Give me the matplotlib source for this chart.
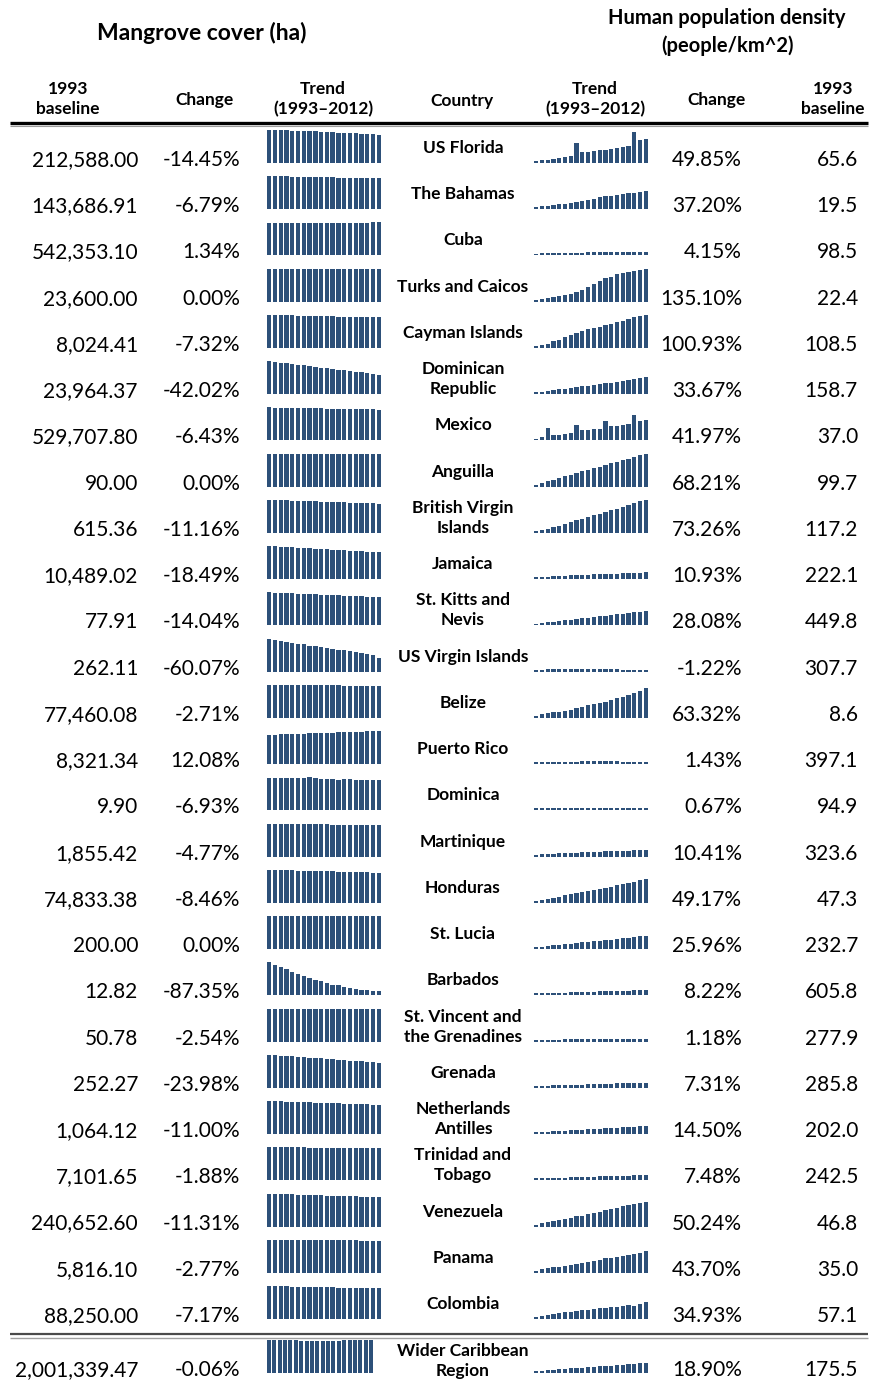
import matplotlib
matplotlib.use("Agg")
import matplotlib.pyplot as plt

plt.rcParams['font.family'] = ['Lato', 'DejaVu Sans']

# table values
countries = ["US Florida", "The Bahamas", "Cuba", "Turks and Caicos", "Cayman Islands",
             "Dominican\nRepublic", "Mexico", "Anguilla", "British Virgin\nIslands", "Jamaica",
             "St. Kitts and\nNevis", "US Virgin Islands", "Belize", "Puerto Rico", "Dominica",
             "Martinique", "Honduras", "St. Lucia", "Barbados", "St. Vincent and\nthe Grenadines",
             "Grenada", "Netherlands\nAntilles", "Trinidad and\nTobago", "Venezuela", "Panama",
             "Colombia", "Wider Caribbean\nRegion"]
mangrove_base = [212588.00, 143686.91, 542353.10, 23600.00, 8024.41, 23964.37, 529707.80, 90.00,
                 615.36, 10489.02, 77.91, 262.11, 77460.08, 8321.34, 9.90, 1855.42, 74833.38,
                 200.00, 12.82, 50.78, 252.27, 1064.12, 7101.65, 240652.60, 5816.10, 88250.00,
                 2001339.47]
mangrove_change = [-14.45, -6.79, 1.34, 0.00, -7.32, -42.02, -6.43, 0.00, -11.16, -18.49, -14.04,
                   -60.07, -2.71, 12.08, -6.93, -4.77, -8.46, 0.00, -87.35, -2.54, -23.98, -11.00,
                   -1.88, -11.31, -2.77, -7.17, -0.06]
pop_change = [49.85, 37.20, 4.15, 135.10, 100.93, 33.67, 41.97, 68.21, 73.26, 10.93, 28.08, -1.22,
              63.32, 1.43, 0.67, 10.41, 49.17, 25.96, 8.22, 1.18, 7.31, 14.50, 7.48, 50.24, 43.70,
              34.93, 18.90]
pop_base = [65.6, 19.5, 98.5, 22.4, 108.5, 158.7, 37.0, 99.7, 117.2, 222.1, 449.8, 307.7, 8.6,
            397.1, 94.9, 323.6, 47.3, 232.7, 605.8, 277.9, 285.8, 202.0, 242.5, 46.8, 35.0, 57.1,
            175.5]

# mangrove cover 1993-2012, % of 1993
mg_florida = [100, 99.6, 99.1, 98.5, 98.0, 97.4, 96.9, 96.2, 95.5, 94.8, 94.1, 93.2, 92.4, 91.6, 90.7, 89.8, 88.8, 87.9, 86.7, 85.55]
mg_bahamas = [100, 99.8, 99.5, 99.3, 98.9, 98.6, 98.2, 97.9, 97.6, 97.2, 96.8, 96.5, 96.1, 95.7, 95.4, 94.9, 94.5, 94.1, 93.6, 93.21]
mg_cuba = [100, 100.1, 100.1, 100.2, 100.3, 100.3, 100.4, 100.5, 100.6, 100.6, 100.7, 100.8, 100.8, 100.9, 101.0, 101.1, 101.1, 101.2, 101.3, 101.34]
mg_turks = [100, 100, 100, 100, 100, 100, 100, 100, 100, 100, 100, 100, 100, 100, 100, 100, 100, 100, 100, 100]
mg_cayman = [100, 99.6, 99.3, 98.8, 98.4, 98.1, 97.6, 97.2, 96.9, 96.4, 96.0, 95.6, 95.3, 94.8, 94.4, 94.0, 93.7, 93.2, 92.9, 92.68]
mg_domrep = [100, 98.0, 95.5, 93.6, 91.2, 89.3, 87.1, 84.8, 82.9, 80.5, 78.6, 76.2, 74.3, 72.0, 70.1, 67.7, 65.8, 63.4, 61.0, 57.98]
mg_mexico = [100, 99.7, 99.4, 99.0, 98.7, 98.3, 98.0, 97.7, 97.3, 96.9, 96.6, 96.2, 95.9, 95.5, 95.1, 94.8, 94.5, 94.1, 93.8, 93.57]
mg_anguilla = [100, 100, 100, 100, 100, 100, 100, 100, 100, 100, 100, 100, 100, 100, 100, 100, 100, 100, 100, 100]
mg_bvi = [100, 99.5, 99.0, 98.4, 97.9, 97.2, 96.6, 96.1, 95.4, 94.8, 94.3, 93.6, 93.0, 92.5, 91.8, 91.2, 90.7, 90.0, 89.4, 88.84]
mg_jamaica = [100, 99.1, 98.2, 97.3, 96.3, 95.4, 94.5, 93.5, 92.6, 91.6, 90.7, 89.7, 88.8, 87.7, 86.8, 85.7, 84.7, 83.6, 82.6, 81.51]
mg_kitts = [100, 99.3, 98.6, 97.8, 97.1, 96.3, 95.6, 94.8, 94.1, 93.3, 92.5, 91.7, 90.9, 90.1, 89.3, 88.5, 87.8, 87.1, 86.5, 85.96]
mg_usvi = [100, 96.9, 93.9, 90.8, 87.8, 84.7, 83.7, 78.6, 76.5, 74.5, 71.4, 69.4, 64.3, 65.3, 61.2, 59.2, 56.1, 53.1, 49.0, 39.93]
mg_belize = [100, 99.9, 99.7, 99.6, 99.4, 99.3, 99.1, 99.0, 98.8, 98.7, 98.5, 98.4, 98.2, 98.1, 97.9, 97.8, 97.7, 97.5, 97.4, 97.29]
mg_puerto = [100, 100.4, 100.9, 101.5, 102.1, 102.8, 103.4, 105.3, 104.8, 105.5, 106.2, 106.9, 107.5, 108.2, 108.8, 109.5, 110.1, 110.8, 111.4, 112.08]
mg_dominica = [100, 100, 100, 100, 100, 100, 100, 102.5, 99.0, 98.7, 98.4, 98.1, 94.5, 96.8, 96.3, 95.7, 95.0, 94.4, 93.7, 93.07]
mg_martinique = [100, 99.8, 99.5, 99.3, 99.0, 98.8, 98.5, 98.2, 98.0, 97.7, 97.5, 97.2, 96.9, 96.7, 96.4, 96.2, 95.9, 95.7, 95.4, 95.23]
mg_honduras = [100, 99.6, 99.1, 98.7, 98.2, 97.8, 97.3, 96.9, 96.4, 96.0, 95.5, 95.1, 94.6, 94.2, 93.7, 93.3, 92.8, 92.4, 91.9, 91.54]
mg_lucia = [100, 100, 100, 100, 100, 100, 100, 100, 100, 100, 100, 100, 100, 100, 100, 100, 100, 100, 100, 100]
mg_barbados = [100, 93, 86, 79, 72, 65, 59, 54, 47, 42, 37, 32, 30, 25, 22, 19, 17, 15, 13.5, 12.65]
mg_vincent = [100, 99.9, 99.7, 99.6, 99.5, 99.3, 99.2, 99.0, 98.9, 98.7, 98.6, 98.4, 98.3, 98.1, 98.0, 97.9, 97.8, 97.7, 97.6, 97.46]
mg_grenada = [100, 98.8, 97.6, 96.3, 95.1, 93.9, 92.6, 91.4, 90.1, 88.9, 87.6, 86.4, 85.1, 83.9, 82.6, 81.3, 80.0, 78.7, 77.4, 76.02]
mg_antilles = [100, 99.4, 98.8, 98.2, 97.6, 97.0, 96.4, 95.8, 95.2, 94.6, 94.0, 93.4, 92.8, 92.2, 91.6, 91.0, 90.4, 89.8, 89.4, 89.0]
mg_trinidad = [100, 99.9, 99.8, 99.7, 99.6, 99.5, 99.4, 99.3, 99.2, 99.1, 99.0, 98.9, 98.8, 98.7, 98.6, 98.5, 98.4, 98.3, 98.2, 98.12]
mg_venezuela = [100, 99.4, 98.8, 98.2, 97.6, 97.0, 96.4, 95.8, 95.2, 94.6, 94.0, 93.4, 92.8, 92.2, 91.6, 91.0, 90.4, 89.8, 89.2, 88.69]
mg_panama = [100, 99.9, 99.7, 99.6, 99.4, 99.3, 99.1, 99.0, 98.8, 98.7, 98.5, 98.4, 98.2, 98.1, 97.9, 97.8, 97.6, 97.5, 97.4, 97.23]
mg_colombia = [100, 99.6, 99.2, 98.8, 98.4, 98.1, 97.7, 97.3, 96.9, 96.5, 96.1, 95.7, 95.4, 95.0, 94.6, 94.2, 93.8, 93.5, 93.2, 92.83]
mg_wider = [100, 99.7, 99.4, 99.1, 98.8, 98.5, 98.3, 98.1, 97.9, 97.8, 97.7, 97.8, 97.9, 98.2, 98.5, 98.8, 99.1, 99.4, 99.7, 99.94]

# population density 1993-2012, % change from 1993
pd_florida = [0, 1.5, 3.5, 5, 7, 8.5, 12, 41, 20, 21, 22.5, 24, 25.5, 27, 29, 31, 34, 66, 47, 49.85]
pd_bahamas = [0, 2.5, 4, 5.5, 7, 8.5, 10.5, 12, 14, 15.5, 19.5, 23, 24.5, 26.5, 28, 29.5, 31.5, 33, 35, 37.2]
pd_cuba = [0, 0.4, 0.7, 1.1, 1.4, 1.7, 2.0, 2.2, 2.4, 2.7, 2.9, 3.1, 3.3, 3.5, 3.6, 3.8, 3.9, 4.0, 4.1, 4.15]
pd_turks = [0, 5.5, 9.6, 12.4, 15.2, 20.7, 24.8, 33.1, 44.1, 55.1, 68.9, 82.7, 93.7, 100.6, 110.3, 115.8, 121.3, 125.4, 131.0, 135.1]
pd_cayman = [0, 4, 8, 15, 21, 29, 35, 42, 48, 55, 60, 63, 68, 72, 78, 82, 87, 93, 98, 100.93]
pd_domrep = [0, 1.5, 3.2, 4.8, 6.5, 8.2, 9.9, 11.6, 13.3, 15, 16.7, 18.4, 20.1, 21.8, 23.6, 25.4, 27.2, 29.2, 31.3, 33.67]
pd_mexico = [0, 3.5, 23, 7, 8.5, 10, 12.5, 31.5, 19, 19, 21, 22.5, 40.5, 28, 28.5, 30, 33, 54, 40, 41.97]
pd_anguilla = [0, 4.5, 8, 11, 15, 19.5, 23, 27, 30, 34, 37.5, 41, 44.5, 48, 51, 55, 58.5, 62, 66, 68.21]
pd_bvi = [0, 3, 6, 9.5, 13, 17, 21, 25, 29, 33, 37, 41, 45, 49, 53, 57.5, 62, 66, 70, 73.26]
pd_jamaica = [0, 0.8, 1.5, 2.2, 2.9, 3.5, 4.1, 4.7, 5.3, 5.9, 6.5, 7, 7.5, 8, 8.5, 9, 9.5, 10, 10.5, 10.93]
pd_kitts = [0, 1.5, 3, 4.5, 6, 7.5, 9, 10.5, 12, 13.5, 15, 16.5, 18, 19.5, 21, 22.5, 24, 25.5, 27, 28.08]
pd_usvi = [0, 0.3, 0.8, 1.2, 1.5, 1.8, 2, 2.1, 2.1, 2, 1.9, 1.7, 1.4, 1.1, 0.7, 0.3, -0.1, -0.5, -0.9, -1.22]
pd_belize = [0, 3.5, 6, 8, 10, 12, 14.5, 17, 20.5, 24, 27, 29.5, 32.5, 36, 39.5, 43, 47, 51.5, 57, 63.32]
pd_puerto = [0, 0.3, 0.6, 0.9, 1.1, 1.3, 1.5, 1.6, 1.7, 1.8, 1.8, 1.8, 1.8, 1.7, 1.7, 1.6, 1.6, 1.5, 1.5, 1.43]
pd_dominica = [0, 0.2, 0.3, 0.4, 0.5, 0.5, 0.6, 0.6, 0.6, 0.6, 0.6, 0.6, 0.6, 0.6, 0.6, 0.6, 0.7, 0.7, 0.7, 0.67]
pd_martinique = [0, 0.8, 1.6, 2.3, 3, 3.7, 4.3, 4.9, 5.5, 6, 6.5, 7, 7.5, 8, 8.5, 8.9, 9.3, 9.7, 10.1, 10.41]
pd_honduras = [0, 2.5, 5, 7.5, 10, 12.5, 15, 17.5, 20, 22.5, 25, 27.5, 30, 32.5, 35, 37.5, 40.5, 43.5, 46.5, 49.17]
pd_lucia = [0, 1.4, 2.8, 4.2, 5.5, 6.8, 8.1, 9.4, 10.7, 12, 13.3, 14.6, 15.9, 17.2, 18.5, 19.8, 21.1, 22.4, 24.2, 25.96]
pd_barbados = [0, 0.4, 0.8, 1.2, 1.6, 2, 2.4, 2.8, 3.2, 3.6, 4, 4.4, 4.8, 5.2, 5.6, 6.1, 6.6, 7.1, 7.6, 8.22]
pd_vincent = [0, 0.1, 0.2, 0.3, 0.4, 0.5, 0.5, 0.6, 0.6, 0.7, 0.7, 0.8, 0.8, 0.9, 0.9, 1.0, 1.0, 1.1, 1.1, 1.18]
pd_grenada = [0, 0.4, 0.8, 1.2, 1.6, 2, 2.4, 2.8, 3.2, 3.6, 4, 4.4, 4.8, 5.2, 5.6, 6, 6.4, 6.8, 7.1, 7.31]
pd_antilles = [0, 0.5, 1.1, 1.7, 2.3, 3, 3.8, 4.6, 5.4, 6.2, 7, 7.8, 8.6, 9.4, 10.2, 11, 11.8, 12.7, 13.6, 14.5]
pd_trinidad = [0, 0.3, 0.7, 1.1, 1.5, 1.9, 2.3, 2.7, 3.1, 3.5, 3.9, 4.3, 4.7, 5.1, 5.5, 5.9, 6.3, 6.7, 7.1, 7.48]
pd_venezuela = [0, 2.6, 5.2, 7.8, 10.5, 13.2, 15.9, 19.5, 18.5, 23, 26, 29, 32, 35, 38, 41, 44, 46.5, 48.5, 50.24]
pd_panama = [0, 3.5, 5.6, 7.7, 9.8, 11.9, 14, 16.1, 18.2, 20.3, 22.4, 25.2, 28, 30.1, 31.5, 33.6, 35.7, 37.8, 40.6, 43.7]
pd_colombia = [0, 3.5, 5, 7, 8.5, 10.5, 12.5, 14, 15.5, 17, 18.5, 20, 21, 22, 23.5, 25, 27, 26, 30.5, 34.93]
pd_wider = [0, 1.1, 2.2, 3.2, 4.2, 5.2, 6.2, 7.1, 8, 8.9, 9.8, 10.7, 11.6, 12.5, 13.5, 14.5, 15.5, 16.6, 17.7, 18.9]

mangrove_trend = [mg_florida, mg_bahamas, mg_cuba, mg_turks, mg_cayman, mg_domrep, mg_mexico,
                  mg_anguilla, mg_bvi, mg_jamaica, mg_kitts, mg_usvi, mg_belize, mg_puerto,
                  mg_dominica, mg_martinique, mg_honduras, mg_lucia, mg_barbados, mg_vincent,
                  mg_grenada, mg_antilles, mg_trinidad, mg_venezuela, mg_panama, mg_colombia,
                  mg_wider]
pop_trend = [pd_florida, pd_bahamas, pd_cuba, pd_turks, pd_cayman, pd_domrep, pd_mexico,
             pd_anguilla, pd_bvi, pd_jamaica, pd_kitts, pd_usvi, pd_belize, pd_puerto,
             pd_dominica, pd_martinique, pd_honduras, pd_lucia, pd_barbados, pd_vincent,
             pd_grenada, pd_antilles, pd_trinidad, pd_venezuela, pd_panama, pd_colombia,
             pd_wider]

W, H = 877, 1384
BAR = '#2d5079'

fig = plt.figure(figsize=(W / 100, H / 100), dpi=100)
ax = fig.add_axes([0, 0, 1, 1])
ax.set_xlim(0, W)
ax.set_ylim(H, 0)
ax.axis('off')


def spark_axes(x0, x1, y0, y1):
    a = fig.add_axes([x0 / W, 1 - y1 / H, (x1 - x0) / W, (y1 - y0) / H])
    a.axis('off')
    a.set_xlim(-0.375, 19.375)
    return a


# titles
ax.text(202, 33, "Mangrove cover (ha)", ha='center', va='center', fontsize=16.5, fontweight='bold')
ax.text(727, 32, "Human population density\n(people/km^2)", ha='center', va='center',
        fontsize=14.5, fontweight='bold', linespacing=1.45)

# column headers
hdr = dict(ha='center', va='center', fontsize=12.5, fontweight='bold', linespacing=1.3)
ax.text(68, 99, "1993\nbaseline", **hdr)
ax.text(205, 100, "Change", **hdr)
ax.text(323, 99, "Trend\n(1993\u20132012)", **hdr)
ax.text(462, 101, "Country", **hdr)
ax.text(595, 99, "Trend\n(1993\u20132012)", **hdr)
ax.text(716, 100, "Change", **hdr)
ax.text(833, 99, "1993\nbaseline", **hdr)

ax.plot([10, 868], [122.5, 122.5], color='black', lw=2.4, solid_capstyle='butt')
ax.plot([10, 868], [126, 126], color='#9a9a9a', lw=0.8, solid_capstyle='butt')
ax.plot([10, 868], [1334, 1334], color='#4a4a4a', lw=1.6, solid_capstyle='butt')
ax.plot([10, 868], [1337.5, 1337.5], color='#a0a0a0', lw=1.0, solid_capstyle='butt')

n = len(countries)
for i in range(n):
    last = i == n - 1
    ny = 1370 if last else 160 + 46.24 * i
    num = dict(va='center', fontsize=15)
    ax.text(138, ny, f"{mangrove_base[i]:,.2f}", ha='right', **num)
    ax.text(240, ny, f"{mangrove_change[i]:.2f}%", ha='right', **num)
    ax.text(742, ny, f"{pop_change[i]:.2f}%", ha='right', **num)
    ax.text(858, ny, f"{pop_base[i]:.1f}", ha='right', **num)
    ax.text(463, ny - (9 if last else 12), countries[i], ha='center', va='center',
            fontsize=12.5, fontweight='bold', linespacing=1.3)

    # mangrove sparkline, zero based
    mv = mangrove_trend[i]
    a = spark_axes(267, 373 if last else 381, ny - 30, ny + 3)
    a.bar(range(len(mv)), mv, width=0.75, color=BAR)
    a.set_ylim(0, max(mv))

    # population sparkline, common scale with a small floor
    pv = pop_trend[i]
    s = max(max(pv), 70)
    off = 0.06 * s
    a = spark_axes(534, 648, ny - 30, ny + 3)
    a.bar(range(len(pv)), [max(v, 0) + off for v in pv], bottom=-off, width=0.72, color=BAR)
    a.set_ylim(-off, s)

fig.savefig("out.png", dpi=100)
